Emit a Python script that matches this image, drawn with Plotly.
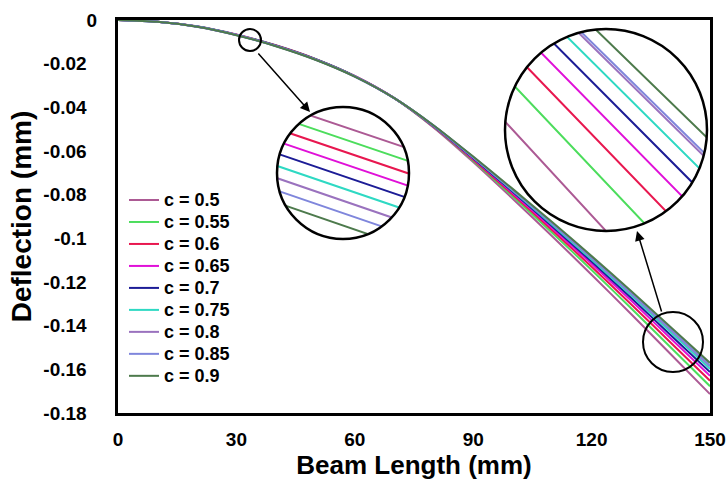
import numpy as np
import plotly.graph_objects as go

# ---------------- data ----------------
beam_length = [0, 10, 20, 30, 40, 50, 60, 70, 80, 90, 100, 110, 120, 130, 140, 150]

c_labels = ["c = 0.5", "c = 0.55", "c = 0.6", "c = 0.65", "c = 0.7",
            "c = 0.75", "c = 0.8", "c = 0.85", "c = 0.9"]

defl_c050 = [0, -0.00075, -0.0029, -0.00665, -0.0116, -0.0178, -0.02565, -0.0358,
             -0.0493, -0.06505, -0.08185, -0.09905, -0.11665, -0.13465, -0.1530, -0.17135]
defl_c055 = [0, -0.0007625, -0.002925, -0.0066875, -0.01165, -0.01785, -0.0256875, -0.0358,
             -0.04905, -0.06442, -0.08072, -0.09741, -0.11451, -0.1320, -0.14988, -0.16775]
defl_c060 = [0, -0.000775, -0.00295, -0.006725, -0.0117, -0.0179, -0.025725, -0.0358,
             -0.04887, -0.06398, -0.07992, -0.09627, -0.11301, -0.13016, -0.14769, -0.16523]
defl_c065 = [0, -0.0007875, -0.002975, -0.0067625, -0.01175, -0.01795, -0.0257625, -0.0358,
             -0.04871, -0.06359, -0.07921, -0.09524, -0.11167, -0.1285, -0.14573, -0.16297]
defl_c070 = [0, -0.0008, -0.0030, -0.0068, -0.0118, -0.0180, -0.0258, -0.0358,
             -0.04859, -0.06329, -0.07867, -0.09446, -0.11065, -0.12724, -0.14425, -0.16125]
defl_c075 = [0, -0.0008125, -0.003025, -0.0068375, -0.01185, -0.01805, -0.0258375, -0.0358,
             -0.04849, -0.06302, -0.0782, -0.09377, -0.10975, -0.12612, -0.14293, -0.15974]
defl_c080 = [0, -0.000825, -0.00305, -0.006875, -0.0119, -0.0181, -0.025875, -0.0358,
             -0.04841, -0.06282, -0.07783, -0.09324, -0.10905, -0.12526, -0.14191, -0.15857]
defl_c085 = [0, -0.0008375, -0.003075, -0.0069125, -0.01195, -0.01815, -0.0259125, -0.0358,
             -0.04839, -0.06277, -0.07775, -0.09312, -0.1089, -0.12507, -0.14169, -0.15831]
defl_c090 = [0, -0.00085, -0.0031, -0.00695, -0.0120, -0.0182, -0.02595, -0.0358,
             -0.0483, -0.06255, -0.07735, -0.09255, -0.10815, -0.12415, -0.1406, -0.15705]

deflections = [defl_c050, defl_c055, defl_c060, defl_c065, defl_c070,
               defl_c075, defl_c080, defl_c085, defl_c090]

colors = ["#AC5A94", "#4CDD5C", "#E8174F", "#E010D8", "#1C1C96",
          "#2ED9C3", "#9A72BE", "#7F86DC", "#4D7A4C"]

x_ticks = [0, 30, 60, 90, 120, 150]
y_ticks = [0, -0.02, -0.04, -0.06, -0.08, -0.1, -0.12, -0.14, -0.16, -0.18]
y_ticktext = ["0", "-0.02", "-0.04", "-0.06", "-0.08", "-0.1", "-0.12", "-0.14", "-0.16", "-0.18"]

# magnified windows: (x range, y range) in data units
zoom_a_x = [32.85, 33.15]
zoom_a_y = [-0.00851, -0.00807]
zoom_b_x = [136.7, 144.5]
zoom_b_y = [-0.1541, -0.1409]

# ---------------- layout geometry (pixels) ----------------
W, H = 728, 487
PL, PR, PT, PB = 118, 710, 20, 413
NBSP = "\u00a0"


def to_paper(px, py):
    return (px - PL) / (PR - PL), (PB - py) / (PB - PT)


def circle_shape(cx, cy, r, width):
    x0, y0 = to_paper(cx - r, cy + r)
    x1, y1 = to_paper(cx + r, cy - r)
    return dict(type="circle", xref="paper", yref="paper", x0=x0, y0=y0, x1=x1, y1=y1,
                line=dict(color="black", width=width), fillcolor="rgba(0,0,0,0)", layer="above")


def ring_mask(cx, cy, r, a_start, a_end):
    """White annular sector between the circle and its bounding square."""
    th = np.radians(np.linspace(a_start, a_end, 721))
    half = r + 1.5
    rout = half / np.maximum(np.abs(np.cos(th)), np.abs(np.sin(th)))
    pts = [(cx + ro * np.cos(t), cy + ro * np.sin(t)) for ro, t in zip(rout, th)]
    pts += [(cx + (r - 0.5) * np.cos(t), cy + (r - 0.5) * np.sin(t)) for t in th[::-1]]
    pp = [to_paper(px, py) for px, py in pts]
    path = "M " + " L ".join(f"{a:.5f},{b:.5f}" for a, b in pp) + " Z"
    return dict(type="path", xref="paper", yref="paper", path=path,
                fillcolor="white", line=dict(width=0), layer="above")


def domain_of(cx, cy, r):
    xa, ya = to_paper(cx - r, cy + r)
    xb, yb = to_paper(cx + r, cy - r)
    return [xa, xb], [ya, yb]


fig = go.Figure()

# main curves; legend rows are sized by the legend font, labels drawn a bit larger
for name, ys, col in zip(c_labels, deflections, colors):
    fig.add_trace(go.Scatter(x=beam_length, y=ys,
                             name=f'<span style="font-size:18px">{name}</span>', mode="lines",
                             line=dict(color=col, width=2, shape="spline", smoothing=0.8)))

# magnified views of the same curves
for ys, col in zip(deflections, colors):
    fig.add_trace(go.Scatter(x=beam_length, y=ys, mode="lines", showlegend=False,
                             line=dict(color=col, width=2), xaxis="x2", yaxis="y2",
                             hoverinfo="skip"))
    fig.add_trace(go.Scatter(x=beam_length, y=ys, mode="lines", showlegend=False,
                             line=dict(color=col, width=2), xaxis="x3", yaxis="y3",
                             hoverinfo="skip"))

zA = (343, 173, 66)   # upper-left magnifier
zB = (606, 130, 101)  # upper-right magnifier
dAx, dAy = domain_of(*zA)
dBx, dBy = domain_of(*zB)

FONT = "Liberation Sans, Arial"
tickfont = dict(family=FONT, size=19, color="black", weight="bold")

fig.update_layout(
    width=W, height=H,
    margin=dict(l=PL, r=W - PR, t=PT, b=H - PB),
    paper_bgcolor="white", plot_bgcolor="rgba(0,0,0,0)",
    xaxis=dict(range=[0, 150], tickvals=x_ticks, ticks="", showgrid=False, zeroline=False,
               showline=True, linecolor="black", linewidth=3, mirror=True,
               tickfont=tickfont, ticklabelstandoff=7, automargin=False,
               title=dict(text="Beam Length (mm)",
                          font=dict(family=FONT, size=26, color="black", weight="bold"),
                          standoff=8)),
    yaxis=dict(range=[-0.18, 0], tickvals=y_ticks,
               ticktext=[t if t == "0" else t + NBSP * 2 for t in y_ticktext],
               ticks="", showgrid=False, zeroline=False,
               showline=True, linecolor="black", linewidth=3, mirror=True,
               tickfont=tickfont, ticklabelstandoff=14, automargin=False,
               title=dict(text="Deflection (mm)",
                          font=dict(family=FONT, size=28, color="black", weight="bold"),
                          standoff=4)),
    xaxis2=dict(domain=dAx, range=zoom_a_x, visible=False, anchor="y2", fixedrange=True),
    yaxis2=dict(domain=dAy, range=zoom_a_y, visible=False, anchor="x2", fixedrange=True),
    xaxis3=dict(domain=dBx, range=zoom_b_x, visible=False, anchor="y3", fixedrange=True),
    yaxis3=dict(domain=dBy, range=zoom_b_y, visible=False, anchor="x3", fixedrange=True),
    legend=dict(x=to_paper(124, 0)[0], y=to_paper(0, 184)[1], xanchor="left", yanchor="top",
                bgcolor="rgba(0,0,0,0)", borderwidth=0,
                font=dict(family=FONT, size=14.6, color="black", weight="bold"),
                tracegroupgap=0),
    showlegend=True,
)

shapes = [
    ring_mask(*zA, -30, 290),
    ring_mask(*zB, 160, 465),
    circle_shape(*zA, 2.5),
    circle_shape(*zB, 2.5),
    circle_shape(250, 40, 11, 2),
    circle_shape(673, 342, 30, 2),
]
fig.update_layout(shapes=shapes)

# pointer arrows from the small circles to the magnified views
hA = to_paper(310, 112)
hB = to_paper(637, 231)
fig.add_annotation(x=hA[0], y=hA[1], xref="paper", yref="paper", text="", showarrow=True,
                   ax=257 - 310, ay=52 - 112, axref="pixel", ayref="pixel",
                   arrowhead=2, arrowsize=1.3, arrowwidth=1.5, arrowcolor="black", standoff=0)
fig.add_annotation(x=hB[0], y=hB[1], xref="paper", yref="paper", text="", showarrow=True,
                   ax=662 - 637, ay=313 - 231, axref="pixel", ayref="pixel",
                   arrowhead=2, arrowsize=1.3, arrowwidth=1.5, arrowcolor="black", standoff=0)

fig.write_html("out.html")
